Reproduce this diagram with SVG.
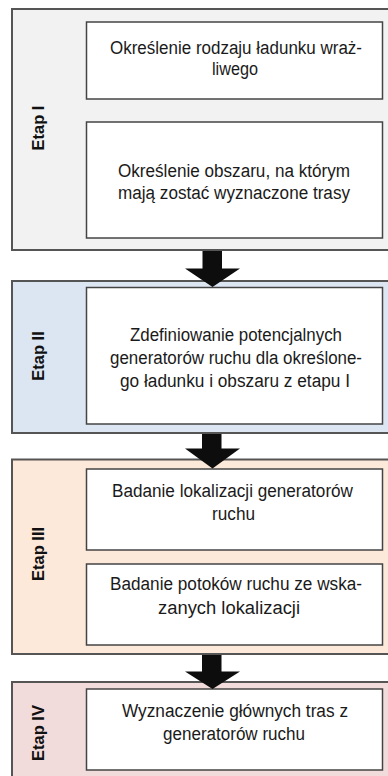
<svg xmlns="http://www.w3.org/2000/svg" width="388" height="776" viewBox="0 0 388 776">
<style>
.stage{stroke:#555;stroke-width:2}
.box{fill:#fff;stroke:#444;stroke-width:1.5}
.t{font-family:"Liberation Sans",Arial,sans-serif;font-size:18px;fill:#1a1a1a;text-anchor:middle}
.lbl{font-family:"Liberation Sans",Arial,sans-serif;font-size:16.5px;font-weight:bold;fill:#111;text-anchor:middle}
.arr{fill:#0d0d0d}
</style>
<rect width="388" height="776" fill="#fff"/>
<g id="stage1">
<rect class="stage" x="12" y="9" width="390" height="241" fill="#f2f2f2"/>
<text class="lbl" transform="translate(44,128) rotate(-90)">Etap I</text>
</g>
<g id="box1a">
<rect class="box" x="86.5" y="22" width="296" height="77"/>
<text class="t" x="236" y="53.5" textLength="252" lengthAdjust="spacingAndGlyphs">Określenie rodzaju ładunku wraż-</text>
<text class="t" x="235" y="74.5" textLength="46" lengthAdjust="spacingAndGlyphs">liwego</text>
</g>
<g id="box1b">
<rect class="box" x="86.5" y="122" width="296" height="116"/>
<text class="t" x="234" y="177" textLength="232" lengthAdjust="spacingAndGlyphs">Określenie obszaru, na którym</text>
<text class="t" x="234" y="199" textLength="232" lengthAdjust="spacingAndGlyphs">mają zostać wyznaczone trasy</text>
</g>
<g id="stage2">
<rect class="stage" x="12" y="281" width="390" height="152" fill="#dce6f2"/>
<text class="lbl" transform="translate(44,356) rotate(-90)">Etap II</text>
</g>
<g id="box2">
<rect class="box" x="86.5" y="287.5" width="296" height="136.5"/>
<text class="t" x="236" y="341" textLength="212" lengthAdjust="spacingAndGlyphs">Zdefiniowanie potencjalnych</text>
<text class="t" x="236" y="364" textLength="252" lengthAdjust="spacingAndGlyphs">generatorów ruchu dla określone-</text>
<text class="t" x="235" y="387" textLength="230" lengthAdjust="spacingAndGlyphs">go ładunku i obszaru z etapu I</text>
</g>
<g id="stage3">
<rect class="stage" x="12" y="459.5" width="390" height="194.5" fill="#fde9d9"/>
<text class="lbl" transform="translate(44,554) rotate(-90)">Etap III</text>
</g>
<g id="box3a">
<rect class="box" x="86.5" y="469" width="296" height="81"/>
<text class="t" x="232.5" y="497" textLength="241" lengthAdjust="spacingAndGlyphs">Badanie lokalizacji generatorów</text>
<text class="t" x="233.5" y="520" textLength="43" lengthAdjust="spacingAndGlyphs">ruchu</text>
</g>
<g id="box3b">
<rect class="box" x="86.5" y="564" width="296" height="81"/>
<text class="t" x="236" y="590" textLength="252" lengthAdjust="spacingAndGlyphs">Badanie potoków ruchu ze wska-</text>
<text class="t" x="229" y="614" textLength="142" lengthAdjust="spacingAndGlyphs">zanych lokalizacji</text>
</g>
<g id="stage4">
<rect class="stage" x="12" y="682" width="390" height="110" fill="#f2dcdb"/>
<text class="lbl" transform="translate(44,733) rotate(-90)">Etap IV</text>
</g>
<g id="box4">
<rect class="box" x="86.5" y="689" width="296" height="81"/>
<text class="t" x="235" y="717" textLength="226" lengthAdjust="spacingAndGlyphs">Wyznaczenie głównych tras z</text>
<text class="t" x="234" y="740" textLength="142" lengthAdjust="spacingAndGlyphs">generatorów ruchu</text>
</g>
<g id="connectors">
<polygon class="arr" points="202.5,251 222,251 222,268.5 240,268.5 212.5,287 185,268.5 202.5,268.5"/>
<polygon class="arr" points="202,434 221.5,434 221.5,448.5 240,448.5 212.5,468.5 185,448.5 202,448.5"/>
<polygon class="arr" points="202,655 221.5,655 221.5,671.5 240,671.5 212.5,689 185,671.5 202,671.5"/>
</g>
</svg>
